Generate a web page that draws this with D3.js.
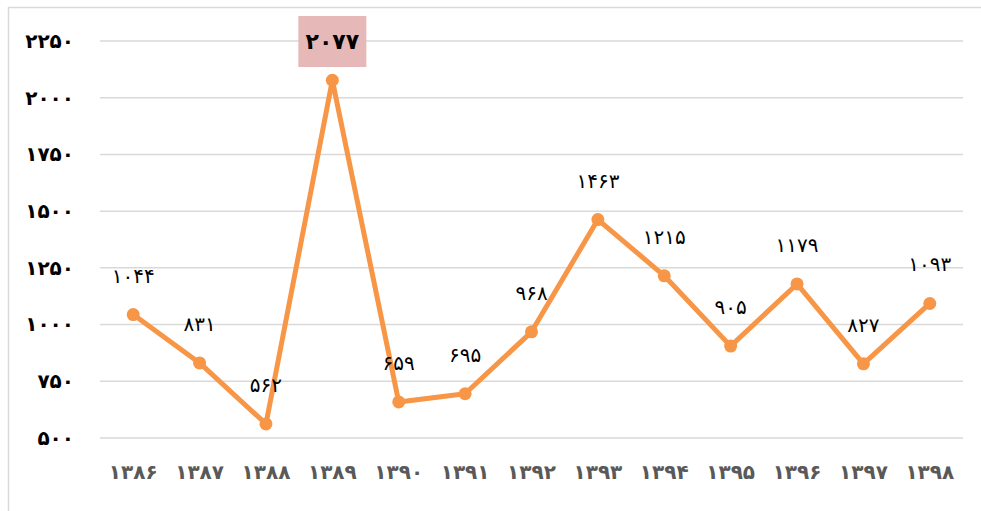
<!DOCTYPE html>
<html>
<head>
<meta charset="utf-8">
<script src="https://cdn.jsdelivr.net/npm/d3@7"></script>
<style>
  body { margin: 0; background: #fff; }
  svg { display: block; }
  .grid line { stroke: #d9d9d9; stroke-width: 1.5; }
  .y-axis text { font-family: "DejaVu Sans", sans-serif; font-weight: bold; font-size: 20px; fill: #000; }
  .x-axis text { font-family: "DejaVu Sans", sans-serif; font-weight: bold; font-size: 20px; fill: #595959; }
  .val-label { font-family: "DejaVu Sans", sans-serif; font-size: 20px; fill: #000; }
</style>
</head>
<body>
<div id="chart"></div>
<script>
// data
var years = ['1386', '1387', '1388', '1389', '1390', '1391', '1392', '1393', '1394', '1395', '1396', '1397', '1398'];
var values = [1044, 831, 562, 2077, 659, 695, 968, 1463, 1215, 905, 1179, 827, 1093];
var yTicks = [500, 750, 1000, 1250, 1500, 1750, 2000, 2250];

var width = 981, height = 511;

// latin digits -> persian digits
function fa(n) {
  return String(n).replace(/\d/g, (d) => { return '۰۱۲۳۴۵۶۷۸۹'[d] });
}

var svg = d3.select('#chart').append('svg')
    .attr('width', width)
    .attr('height', height);

// chart frame (only left and top edges show in the crop)
svg.append('path')
    .attr('d', 'M8.5,' + height + 'V7.5H' + width)
    .attr('fill', 'none')
    .attr('stroke', '#d9d9d9')
    .attr('stroke-width', 1.5);

var x = d3.scaleBand()
    .domain(years)
    .range([100, 963]);

var y = d3.scaleLinear()
    .domain([500, 2250])
    .range([438, 41]);

// horizontal gridlines
svg.append('g')
    .attr('class', 'grid')
  .selectAll('line')
    .data(yTicks)
  .enter().append('line')
    .attr('x1', 100)
    .attr('x2', 963)
    .attr('y1', (d) => { return y(d) })
    .attr('y2', (d) => { return y(d) });

var yAxis = svg.append('g')
    .attr('class', 'y-axis')
    .attr('transform', 'translate(74,0)')
    .call(d3.axisLeft(y).tickValues(yTicks).tickSize(0).tickPadding(0).tickFormat(fa));
yAxis.select('.domain').remove();

var xAxis = svg.append('g')
    .attr('class', 'x-axis')
    .attr('transform', 'translate(0,465)')
    .call(d3.axisBottom(x).tickSize(0).tickPadding(0).tickFormat(fa));
xAxis.select('.domain').remove();

var cx = (d, i) => { return x(years[i]) + x.bandwidth() / 2 };

var line = d3.line()
    .x((d, i) => { return cx(d, i) })
    .y((d) => { return y(d) });

svg.append('path')
    .datum(values)
    .attr('d', line)
    .attr('fill', 'none')
    .attr('stroke', '#f79646')
    .attr('stroke-width', 5)
    .attr('stroke-linejoin', 'round');

svg.append('g')
  .selectAll('circle')
    .data(values)
  .enter().append('circle')
    .attr('cx', cx)
    .attr('cy', (d) => { return y(d) })
    .attr('r', 6.5)
    .attr('fill', '#f79646');

// value labels, the peak one gets a shaded box
var peak = values.indexOf(d3.max(values));

var labels = svg.append('g')
  .selectAll('g')
    .data(values)
  .enter().append('g')
    .attr('transform', (d, i) => {
      if (i === peak) return 'translate(' + cx(d, i) + ',41)';
      return 'translate(' + cx(d, i) + ',' + (y(d) - 39) + ')';
    });

labels.filter((d, i) => { return i === peak })
  .append('rect')
    .attr('x', -34)
    .attr('y', -25)
    .attr('width', 68)
    .attr('height', 51)
    .attr('fill', '#e6b8b7');

labels.append('text')
    .attr('class', 'val-label')
    .attr('text-anchor', 'middle')
    .attr('dy', '0.35em')
    .style('font-weight', (d, i) => { return i === peak ? 'bold' : 'normal' })
    .style('font-size', (d, i) => { return i === peak ? '22px' : null })
    .text((d) => { return fa(d) });
</script>
</body>
</html>
